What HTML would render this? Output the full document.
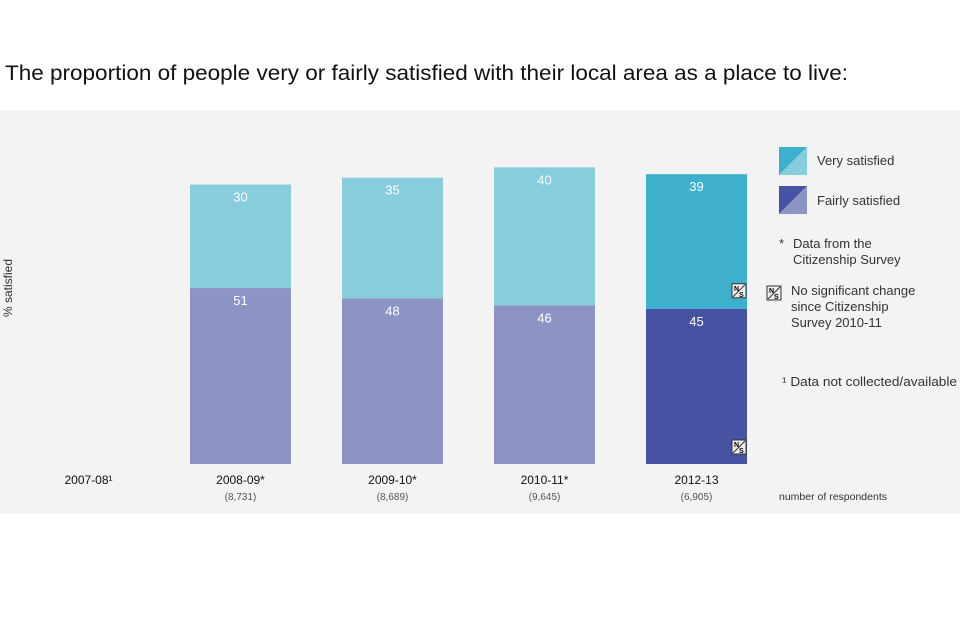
<!DOCTYPE html>
<html><head><meta charset="utf-8"><style>
body{margin:0;background:#fff;}
svg{display:block;font-family:"Liberation Sans",Arial,sans-serif;}
</style></head><body>
<svg id="chart" width="960" height="640" viewBox="0 0 960 640">
<text x="5" y="80" font-size="21.5" fill="#111" textLength="843" lengthAdjust="spacingAndGlyphs">The proportion of people very or fairly satisfied with their local area as a place to live:</text>
<rect x="0" y="110" width="960" height="404" fill="#f3f3f3"/>
<text transform="translate(12,288) rotate(-90)" text-anchor="middle" font-size="12" fill="#333">% satisfied</text>
<g id="bars"></g>
<g>
<polygon points="779,147 807,147 779,175" fill="#3db0cd"/>
<polygon points="807,147 807,175 779,175" fill="#88cddd"/>
<text x="817" y="165" font-size="13" fill="#333">Very satisfied</text>
<polygon points="779,186 807,186 779,214" fill="#4653a3"/>
<polygon points="807,186 807,214 779,214" fill="#8c93c5"/>
<text x="817" y="205" font-size="13" fill="#333">Fairly satisfied</text>
<text font-size="13" fill="#333"><tspan x="779" y="248">*</tspan><tspan x="793" y="248">Data from the</tspan><tspan x="793" y="264">Citizenship Survey</tspan></text>
<g><rect x="767" y="286" width="14" height="14" fill="#eee" stroke="#333"/><line x1="768" y1="299" x2="780" y2="287" stroke="#333"/><text x="769" y="293" font-size="7" font-weight="bold">N</text><text x="774" y="299" font-size="7" font-weight="bold">S</text></g>
<text font-size="13" fill="#333"><tspan x="791" y="295">No significant change</tspan><tspan x="791" y="311">since Citizenship</tspan><tspan x="791" y="327">Survey 2010-11</tspan></text>
<text x="782" y="386" font-size="13" fill="#333" textLength="175" lengthAdjust="spacingAndGlyphs">¹ Data not collected/available</text>
<text x="779" y="500" font-size="10.5" fill="#333">number of respondents</text>
</g>
</svg>
<script>
const categories=["2007-08¹","2008-09*","2009-10*","2010-11*","2012-13"];
const respondents=["","(8,731)","(8,689)","(9,645)","(6,905)"];
const fairly=[null,51,48,46,45];
const very=[null,30,35,40,39];
const nsFlags=[false,false,false,false,true];
const NS="http://www.w3.org/2000/svg";
const g=document.getElementById('bars');
const base=464, ppu=3.45, bw=101;
const xc=i=>88.5+i*152;
const y=v=>base-v*ppu;
function mk(t,a,p){const e=document.createElementNS(NS,t);for(const k in a)e.setAttribute(k,a[k]);(p||g).appendChild(e);return e;}
function ns(x,yy){const gg=mk('g',{});


mk('rect',{x:x,y:yy,width:14,height:14,fill:'#eee',stroke:'#333'},gg);
mk('line',{x1:x+1,y1:yy+13,x2:x+13,y2:yy+1,stroke:'#333'},gg);
mk('text',{x:x+2,y:yy+7,'font-size':7,'font-weight':'bold'},gg).textContent='N';
mk('text',{x:x+7,y:yy+13,'font-size':7,'font-weight':'bold'},gg).textContent='S';}
categories.forEach((c,i)=>{
  const cx=xc(i), last=i===categories.length-1;
  if(fairly[i]!=null){
    const f=fairly[i], v=very[i];
    const r1=mk('rect',{x:cx-bw/2,y:y(f),width:bw,height:base-y(f),fill:last?'#4653a3':'#8c93c5'});
    
    
    const r2=mk('rect',{x:cx-bw/2,y:y(f+v),width:bw,height:y(f)-y(f+v),fill:last?'#3db0cd':'#88cddd'});
    
    
    const t1=mk('text',{x:cx,y:y(f)+17,'text-anchor':'middle','font-size':13,fill:'#fff'});t1.textContent=f;
    
    
    const t2=mk('text',{x:cx,y:y(f+v)+17,'text-anchor':'middle','font-size':13,fill:'#fff'});t2.textContent=v;
    
    
    if(nsFlags[i]){ns(cx+bw/2-15,y(f)-25);ns(cx+bw/2-15,base-24);}
  }
  const tl=mk('text',{x:cx,y:484,'text-anchor':'middle','font-size':12,fill:'#111'});tl.textContent=c;
  
  
  if(respondents[i]){const tr=mk('text',{x:cx,y:500,'text-anchor':'middle','font-size':10,fill:'#555'});tr.textContent=respondents[i];
  
  }
});
</script>
</body></html>
